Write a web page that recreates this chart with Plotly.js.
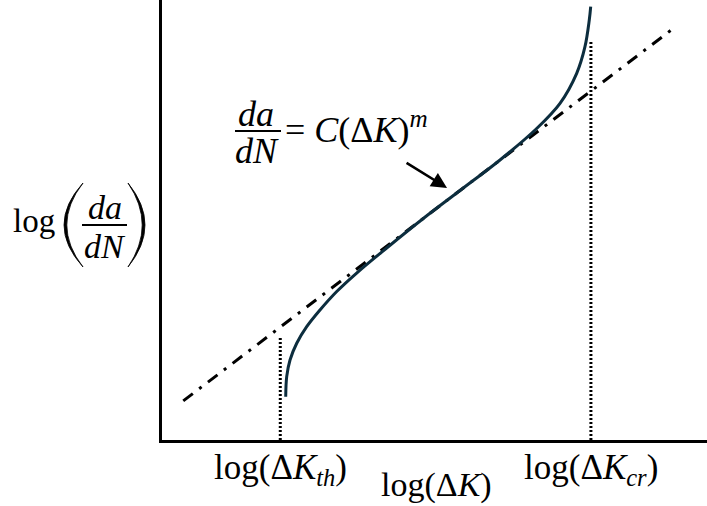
<!DOCTYPE html>
<html>
<head>
<meta charset="utf-8">
<script src="https://cdn.plot.ly/plotly-3.0.1.min.js"></script>
<style>
  html, body { margin: 0; padding: 0; background: #ffffff; }
  #chart { width: 707px; height: 506px; }
</style>
</head>
<body>
<div id="chart"></div>
<script>
// Crack growth rate vs. stress intensity range (log-log, schematic units)
const curveLogDK   = [2.270, 2.288, 2.349, 2.472, 2.655, 2.899, 3.206, 3.572, 4.123, 4.794, 5.468, 6.202, 6.875, 7.303, 7.609, 7.761, 7.840, 7.866];
const curveLogDadN = [0.984, 1.439, 1.818, 2.198, 2.575, 2.955, 3.375, 3.795, 4.364, 5.034, 5.670, 6.364, 7.080, 7.652, 8.334, 8.939, 9.545, 9.848];

// Paris-law straight line
const parisLogDK   = [0.39, 9.41];
const parisLogDadN = [0.89, 9.38];

// Threshold and critical stress intensity ranges
const markerNames  = ['th', 'cr'];
const markerLogDK  = [2.17, 7.87];
const markerTop    = [2.32, 9.05];

// Arrow pointing at the Paris line: [tail, head]
const arrowLogDK   = [4.46, 5.23];
const arrowLogDadN = [6.32, 5.73];

const FONT = 'Liberation Serif, Times New Roman, serif';
const M = { l: 162, r: 0, t: 0, b: 66 };
const W = 707, H = 506;
const PW = W - M.l - M.r, PH = H - M.t - M.b;
// pixel -> paper helpers for the decorations in the margins
const px = x => (x - M.l) / PW;
const py = y => (M.t + PH - y) / PH;

const traces = [
  {
    x: parisLogDK, y: parisLogDadN, mode: 'lines', type: 'scatter',
    line: { color: '#000000', width: 3, dash: '12px,8px,3px,8px' },
    hoverinfo: 'skip'
  },
  {
    x: curveLogDK, y: curveLogDadN, mode: 'lines', type: 'scatter',
    line: { color: '#0c2d3e', width: 3, shape: 'spline', smoothing: 1 },
    hoverinfo: 'skip'
  }
];
markerLogDK.forEach((xv, i) => {
  traces.push({
    x: [xv, xv], y: [0, markerTop[i]], mode: 'lines', type: 'scatter',
    line: { color: '#000000', width: 3, dash: '2px,2px' },
    hoverinfo: 'skip'
  });
});

const annotations = [];
const txt = (text, x, y, size, xanchor) => annotations.push({
  text, xref: 'paper', yref: 'paper', x: px(x), y: py(y),
  xanchor: xanchor || 'center', yanchor: 'middle', showarrow: false,
  font: { family: FONT, size: size, color: '#000000' }
});

// tick-style labels under the dotted markers
markerNames.forEach((n, i) => {
  annotations.push({
    text: 'log(Δ<i>K</i><sub><i>' + n + '</i></sub>)',
    xref: 'x', yref: 'paper', x: markerLogDK[i], y: 0,
    xanchor: 'center', yanchor: 'top', yshift: -6, showarrow: false,
    font: { family: FONT, size: 35, color: '#000000' }
  });
});
// x-axis title
txt('log(Δ<i>K</i>)', 436, 485, 34);

// y-axis title: log( da / dN )
txt('log', 34, 221, 33);
txt('<i>da</i>', 105, 207, 34);
txt('<i>dN</i>', 105, 247, 34);

// Paris law equation
txt('<i>da</i>', 256, 114, 36);
txt('<i>dN</i>', 257, 151, 36);
txt('= <i>C</i>(Δ<i>K</i>)<sup><i>m</i></sup>', 283, 127, 36, 'left');

// arrow to the linear region
annotations.push({
  x: arrowLogDK[1], y: arrowLogDadN[1], ax: arrowLogDK[0], ay: arrowLogDadN[0],
  xref: 'x', yref: 'y', axref: 'x', ayref: 'y', text: '',
  showarrow: true, arrowhead: 2, arrowsize: 1.2, arrowwidth: 2.6, arrowcolor: '#000000'
});

const shapes = [];
const bar = (x0, x1, y) => shapes.push({
  type: 'line', xref: 'paper', yref: 'paper', x0: px(x0), x1: px(x1), y0: py(y), y1: py(y),
  line: { color: '#000000', width: 2 }
});
bar(82, 127, 225);
bar(235, 281, 131);

// tall parentheses around the y-title fraction (thin filled crescents)
const paren = (xEnd, yTop, yBot, xOuter, xInner) => {
  const q = (a, b) => px(a) + ',' + py(b);
  const ym = (yTop + yBot) / 2;
  const cO = 2 * xOuter - xEnd, cI = 2 * xInner - xEnd;
  shapes.push({
    type: 'path', xref: 'paper', yref: 'paper',
    path: 'M' + q(xEnd, yTop) + ' Q' + q(cO, ym) + ' ' + q(xEnd, yBot) +
          ' Q' + q(cI, ym) + ' ' + q(xEnd, yTop) + ' Z',
    fillcolor: '#000000', line: { color: '#000000', width: 0.8 }
  });
};
paren(83, 183, 267, 64, 66.8);
paren(128, 183, 267, 145, 142.2);

const layout = {
  width: W, height: H, margin: M,
  paper_bgcolor: '#ffffff', plot_bgcolor: '#ffffff',
  showlegend: false,
  xaxis: {
    range: [0, 10], showline: true, linewidth: 3, linecolor: '#000000',
    showgrid: false, zeroline: false, showticklabels: false, ticks: ''
  },
  yaxis: {
    range: [0, 10], showline: true, linewidth: 3, linecolor: '#000000',
    showgrid: false, zeroline: false, showticklabels: false, ticks: ''
  },
  annotations, shapes
};

Plotly.newPlot('chart', traces, layout, { staticPlot: true, displayModeBar: false });
</script>
</body>
</html>
